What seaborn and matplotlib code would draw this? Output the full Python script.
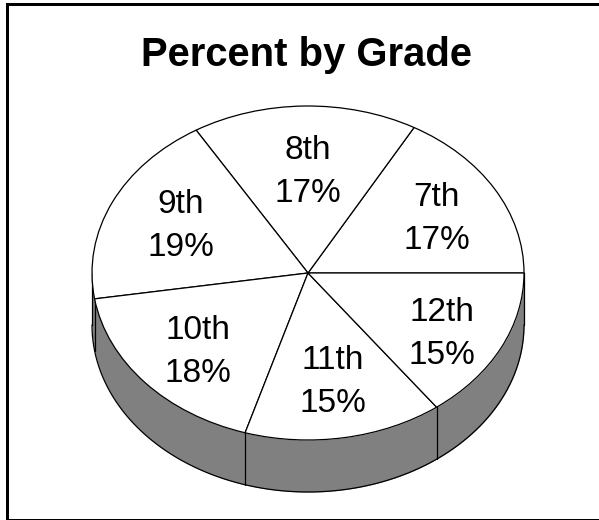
import numpy as np
import seaborn as sns
import matplotlib.pyplot as plt
from matplotlib.lines import Line2D

grades = ['7th', '8th', '9th', '10th', '11th', '12th']
percents = [17, 17, 19, 18, 15, 15]
title = 'Percent by Grade'

sns.set_theme(style='white')
plt.rcParams['font.family'] = ['Liberation Sans', 'DejaVu Sans']

W, H = 599, 520
fig = plt.figure(figsize=(W / 100, H / 100), dpi=100, facecolor='white')
cx, cy, rx, ry = 308, 273, 216, 167
ax = fig.add_axes([(cx - rx) / W, 1 - (cy + ry) / H, 2 * rx / W, 2 * ry / H])

depth = 52 / ry

# side wall first
t = np.linspace(np.pi, 2 * np.pi, 200)
ax.fill_between(np.cos(t), np.sin(t), np.sin(t) - depth, color='#808080', lw=0, zorder=1)
ax.plot(np.cos(t), np.sin(t) - depth, color='black', lw=0.9, zorder=2)
for side in (-1, 1):
    ax.plot([side, side], [0, -depth], color='black', lw=0.9, zorder=2)

wedges, _ = ax.pie(percents, startangle=0, counterclock=True, radius=1, center=(0, 0),
                   colors=['white'] * len(grades),
                   wedgeprops=dict(edgecolor='black', linewidth=0.9, zorder=3))

# wall seams from the slice boundaries
edges = np.cumsum([0] + percents) / sum(percents) * 2 * np.pi
for a in edges:
    if np.sin(a) < -0.01:
        ax.plot([np.cos(a)] * 2, [np.sin(a), np.sin(a) - depth], color='black', lw=0.9, zorder=2)

# labels were placed by hand in the original, not on one radius
label_spots = [(0.595, 0.323), (0.0, 0.605), (-0.588, 0.281),
               (-0.509, -0.474), (0.116, -0.653), (0.62, -0.365)]
for name, pct, spot in zip(grades, percents, label_spots):
    ax.text(spot[0], spot[1], f'{name}\n{pct}%', ha='center', va='center',
            fontsize=24, color='black', linespacing=1.5, zorder=5)

ax.set_aspect('auto')
ax.set_xlim(-1, 1)
ax.set_ylim(-1, 1)
ax.axis('off')
for artist in ax.get_children():
    artist.set_clip_on(False)

fig.text(307 / W, 1 - 55 / H, title, ha='center', va='center', fontsize=28.8, fontweight='bold', color='black')

# frame: heavy top and left, the bottom is cut thin by the image edge
frame = [((7.5, 7.5), (4.5, 520), 3), ((6, 599), (4.5, 4.5), 3), ((6, 599), (520, 520), 2)]
for xs, ys, px in frame:
    fig.add_artist(Line2D([x / W for x in xs], [1 - y / H for y in ys], transform=fig.transFigure,
                          color='black', linewidth=px * 0.72, solid_capstyle='butt', snap=False))

fig.savefig('out.png', dpi=100)
